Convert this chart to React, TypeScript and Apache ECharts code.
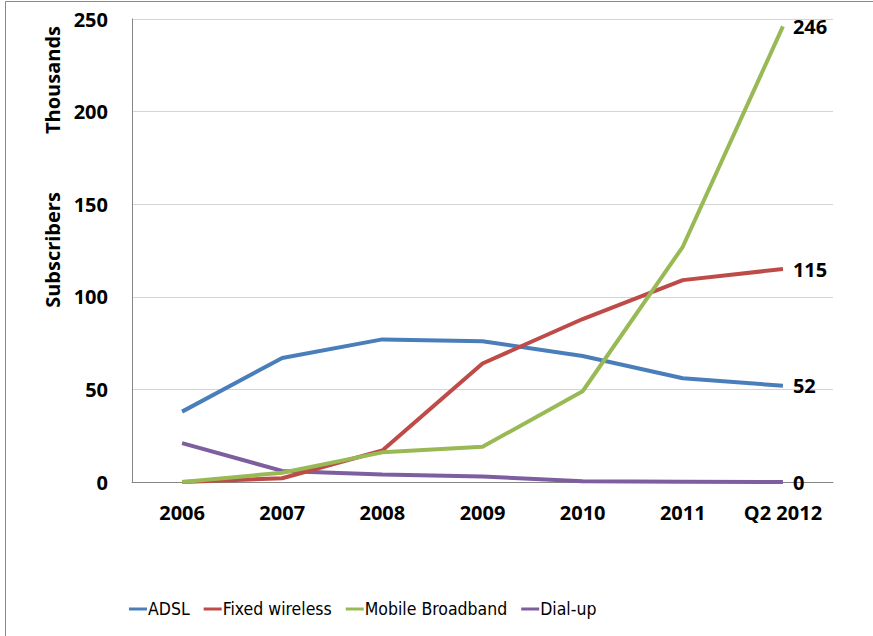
import React, { useEffect, useRef } from "react";
import * as echarts from "echarts";

const categories = ["2006", "2007", "2008", "2009", "2010", "2011", "Q2 2012"];
const adsl = [38, 67, 77, 76, 68, 56, 52];
const fixedWireless = [0, 2, 17, 64, 88, 109, 115];
const mobileBroadband = [0, 5, 16, 19, 49, 127, 246];
const dialUp = [21, 6, 4, 3, 0.4, 0.2, 0];
const seriesNames = ["ADSL", "Fixed wireless", "Mobile Broadband", "Dial-up"];
const colors = ["#4A7EBB", "#BE4B48", "#98B954", "#7D5FA0"];

const FONT = "'Open Sans', 'Noto Sans', sans-serif";
const LEGEND_FONT = "'DejaVu Sans Condensed', 'Open Sans', sans-serif";

export default function App() {
  const ref = useRef<HTMLDivElement>(null);
  useEffect(() => {
    document.body.style.margin = "0";
    const chart = echarts.init(ref.current!, null, { renderer: "svg" });
    const data = [adsl, fixedWireless, mobileBroadband, dialUp];
    chart.setOption({
      animation: false,
      backgroundColor: "#fff",
      textStyle: { fontFamily: FONT },
      grid: { left: 132, right: 40, top: 19, bottom: 154, containLabel: false },
      legend: {
        left: 124,
        top: 595,
        icon: "rect",
        itemWidth: 18,
        itemHeight: 3,
        itemGap: 14,
        textStyle: { fontFamily: LEGEND_FONT, fontSize: 17.5, color: "#000", padding: [0, 0, 0, -4] },
        data: seriesNames,
      },
      xAxis: {
        type: "category",
        data: categories,
        boundaryGap: true,
        axisLine: { lineStyle: { color: "#868686", width: 1 } },
        axisTick: { show: false },
        axisLabel: { interval: 0, fontFamily: FONT, fontWeight: "bold", fontSize: 20, color: "#000", margin: 20 },
        splitLine: { show: false },
      },
      yAxis: {
        type: "value",
        min: 0,
        max: 250,
        interval: 50,
        axisLine: { show: true, lineStyle: { color: "#868686", width: 1 } },
        axisTick: { show: false },
        axisLabel: { fontFamily: FONT, fontWeight: "bold", fontSize: 20, color: "#000", margin: 24 },
        splitLine: { lineStyle: { color: "#d4d4d4", width: 1 } },
      },
      graphic: [
        {
          type: "rect",
          shape: { x: 5.5, y: 1.5, width: 900, height: 700 },
          style: { fill: "none", stroke: "#8a8a8a", lineWidth: 1 },
          silent: true,
          z: -10,
        },
        {
          type: "text",
          x: 52,
          y: 80,
          rotation: Math.PI / 2,
          style: {
            text: "Thousands",
            fontFamily: FONT,
            fontWeight: "bold",
            fontSize: 20,
            fill: "#000",
            align: "center",
            verticalAlign: "middle",
          },
        },
        {
          type: "text",
          x: 52,
          y: 250,
          rotation: Math.PI / 2,
          style: {
            text: "Subscribers",
            fontFamily: FONT,
            fontWeight: "bold",
            fontSize: 20,
            fill: "#000",
            align: "center",
            verticalAlign: "middle",
          },
        },
      ],
      series: seriesNames.map((name, i) => ({
        name,
        type: "line",
        data: data[i],
        symbol: "none",
        color: colors[i],
        lineStyle: { width: 4, color: colors[i] },
        z: i === 3 ? 1 : 2 + i,
        endLabel: {
          show: true,
          formatter: "{c}",
          distance: 10,
          fontFamily: FONT,
          fontWeight: "bold",
          fontSize: 20,
          color: "#000",
        },
      })),
    });
    return () => chart.dispose();
  }, []);
  return <div ref={ref} style={{ width: 873, height: 636 }} />;
}
